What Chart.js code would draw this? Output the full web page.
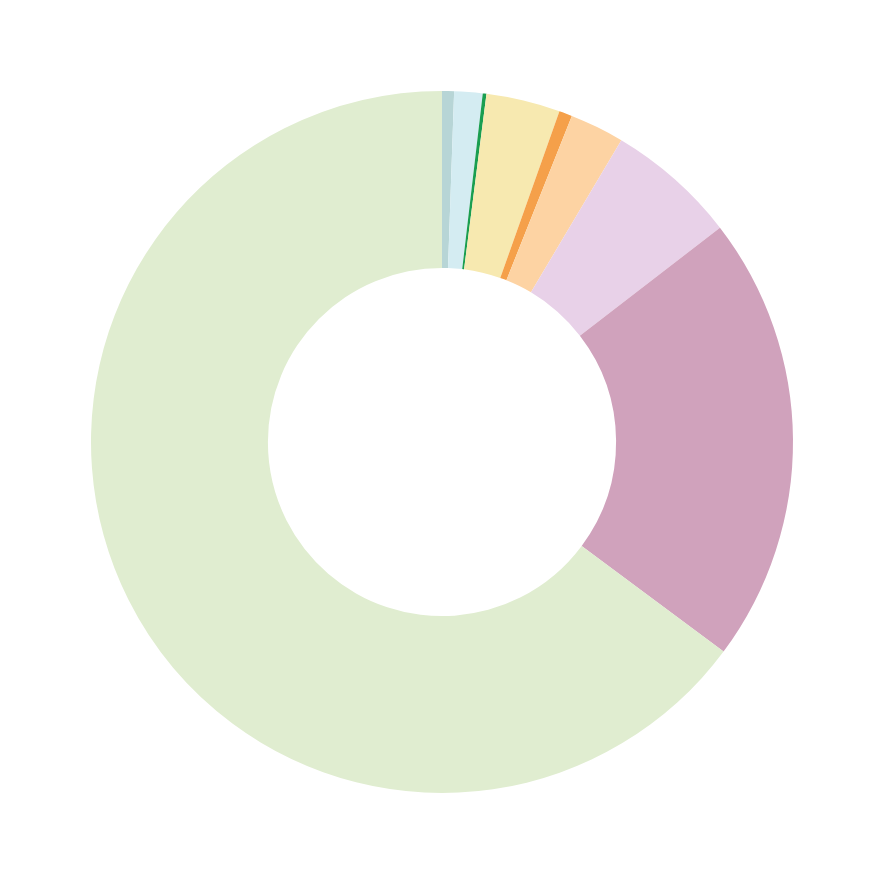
<!DOCTYPE html>
<html>
<head>
<meta charset="utf-8">
<style>
  html, body { margin: 0; padding: 0; background: #ffffff; }
  #wrap { width: 884px; height: 884px; }
</style>
<script src="https://cdn.jsdelivr.net/npm/chart.js@4/dist/chart.umd.min.js"></script>
</head>
<body>
<div id="wrap"><canvas id="chart"></canvas></div>
<script>
// Slice order runs clockwise from 12 o'clock.
const labels = ["S1", "S2", "S3", "S4", "S5", "S6", "S7", "S8", "S9"];
const values = [0.55, 1.3, 0.17, 3.4, 0.6, 2.5, 6.0, 20.6, 64.7];
const colors = [
  "#b7d5d6", "#d4ecf2", "#1a9e50", "#f7e9b0", "#f5a04a",
  "#fdd3a3", "#e8d1e8", "#d0a2bc", "#e0edd0",
];

new Chart(document.getElementById("chart"), {
  type: "doughnut",
  data: {
    labels,
    datasets: [{
      data: values,
      backgroundColor: colors,
      borderWidth: 0,
    }],
  },
  options: {
    responsive: true,
    maintainAspectRatio: false,
    animation: false,
    cutout: "49.6%",
    layout: { padding: 91 },
    plugins: {
      legend: { display: false },
      tooltip: { enabled: false },
    },
  },
});
</script>
</body>
</html>
